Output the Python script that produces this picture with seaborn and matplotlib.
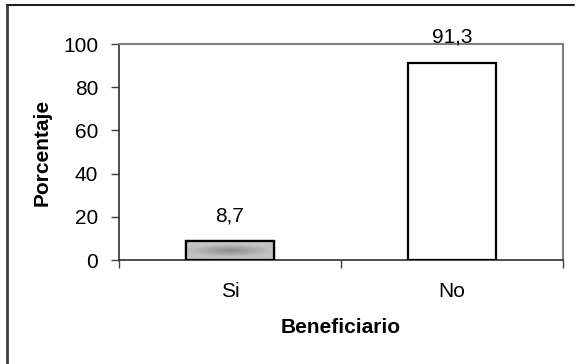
import numpy as np
import pandas as pd
import matplotlib
matplotlib.use("Agg")
import matplotlib.pyplot as plt
import seaborn as sns
from matplotlib.lines import Line2D

categorias = ["Si", "No"]
porcentajes = [8.7, 91.3]
etiquetas = ["8,7", "91,3"]
yticks = [0, 20, 40, 60, 80, 100]

sns.set_theme(style="white")
plt.rcParams['font.family'] = ['Liberation Sans', 'DejaVu Sans']
plt.rcParams['text.color'] = 'black'
plt.rcParams['axes.labelcolor'] = 'black'
plt.rcParams['xtick.color'] = 'black'
plt.rcParams['ytick.color'] = 'black'

fs = 15
df = pd.DataFrame({"Beneficiario": categorias, "Porcentaje": porcentajes})

fig = plt.figure(figsize=(5.79, 3.64), dpi=100)
ax = fig.add_axes([119 / 579, 1 - 260 / 364, 444 / 579, 216 / 364])

sns.barplot(data=df, x="Beneficiario", y="Porcentaje", hue="Beneficiario",
            palette=["#bdbdbd", "#ffffff"], width=0.4, edgecolor="black",
            linewidth=1.6, legend=False, ax=ax, zorder=3)

# degradado gris en la barra "Si"
bar = ax.patches[0]
x0, y0 = bar.get_x(), bar.get_y()
w, h = bar.get_width(), bar.get_height()
xx, yy = np.meshgrid(np.linspace(-1, 1, 200), np.linspace(-1, 1, 40))
r = np.clip(np.sqrt(xx ** 2 + 2 * yy ** 2), 0, 1)
cmap = matplotlib.colors.LinearSegmentedColormap.from_list("g", ["#8c8c8c", "#a8a8a8", "#c4c4c4"])
im = ax.imshow(r, cmap=cmap, vmin=0, vmax=1, aspect="auto",
               extent=[x0, x0 + w, y0, y0 + h], zorder=3.5, interpolation="bilinear")
im.set_clip_path(bar)
edge = plt.Rectangle((x0, y0), w, h, fill=False, edgecolor="black", linewidth=1.6, zorder=4)
ax.add_patch(edge)

ax.bar_label(ax.containers[0], labels=[etiquetas[0]], padding=11, fontsize=fs)
ax.bar_label(ax.containers[1], labels=[etiquetas[1]], padding=12, fontsize=fs)

ax.set_xlim(-0.5, 1.5)
ax.set_ylim(0, 100)
ax.set_yticks(yticks)
ax.set_yticklabels([str(v) for v in yticks], fontsize=fs)
ax.set_xticks([-0.5, 0.5, 1.5], minor=False)
ax.set_xticklabels([])
ax.set_xticks([0, 1], minor=True)
ax.set_xticklabels(categorias, minor=True, fontsize=fs)
ax.tick_params(axis="x", which="minor", length=0, pad=16)
ax.tick_params(axis="x", which="major", direction="out", length=6, width=1, color="#404040", bottom=True)
ax.tick_params(axis="y", direction="out", length=6, width=1, color="#404040", pad=9, left=True)

ax.set_xlabel("Beneficiario", fontsize=fs, fontweight="bold", labelpad=12)
ax.set_ylabel("Porcentaje", fontsize=fs, fontweight="bold", labelpad=8)

for s in ["top", "right"]:
    ax.spines[s].set_color("#808080")
    ax.spines[s].set_linewidth(1.5)
for s in ["left", "bottom"]:
    ax.spines[s].set_color("#303030")
    ax.spines[s].set_linewidth(1.2)
ax.set_facecolor("white")

# marco exterior del gráfico
fig.add_artist(Line2D([7 / 579, 7 / 579], [0, 1 - 5 / 364], transform=fig.transFigure,
                      color="#404040", linewidth=2))
fig.add_artist(Line2D([7 / 579, 574 / 579], [1 - 5 / 364, 1 - 5 / 364], transform=fig.transFigure,
                      color="#202020", linewidth=1.5))

fig.savefig("out.png", dpi=100)
